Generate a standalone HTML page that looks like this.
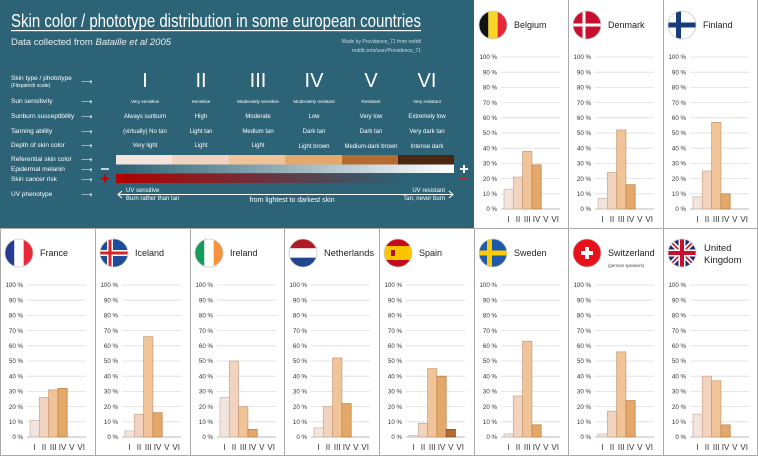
<!DOCTYPE html>
<html><head><meta charset="utf-8">
<style>
html,body{margin:0;padding:0;background:#fff;}
svg{display:block;font-family:"Liberation Sans",sans-serif;}
</style></head>
<body>
<svg id="s" width="758" height="456" viewBox="0 0 758 456" xmlns="http://www.w3.org/2000/svg">
<defs>
<linearGradient id="mel" x1="0" x2="1" y1="0" y2="0"><stop offset="0" stop-color="#2b6275"/><stop offset="1" stop-color="#ffffff"/></linearGradient>
<linearGradient id="can" x1="0" x2="1" y1="0" y2="0"><stop offset="0" stop-color="#b30000"/><stop offset="0.85" stop-color="#2b6275"/><stop offset="1" stop-color="#2b6275"/></linearGradient>
</defs>
<rect x="0" y="0" width="758" height="456" fill="#fff"/>
<rect x="0" y="0" width="474" height="228" fill="#2c6377"/>
<g fill="#fff">
<text x="11" y="27" font-size="18" textLength="410" lengthAdjust="spacingAndGlyphs">Skin color / phototype distribution in some european countries</text>
<rect x="11" y="30" width="410" height="1.2"/>
<text x="11" y="45" font-size="9.5" fill="#e8eef0">Data collected from <tspan font-style="italic">Bataille et al 2005</tspan></text>
<text x="421" y="43" font-size="5" text-anchor="end" fill="#cfdde2">Made by Providence_71 from reddit</text>
<text x="421" y="52" font-size="5" text-anchor="end" fill="#cfdde2">reddit.com/user/Providence_71</text>
<g font-size="6.5">
<text x="11" y="80">Skin type / phototype</text>
<text x="11" y="87" font-size="5">(Fitzpatrick scale)</text>
<text x="11" y="103">Sun sensitivity</text>
<text x="11" y="118">Sunburn susceptibility</text>
<text x="11" y="133">Tanning ability</text>
<text x="11" y="147">Depth of skin color</text>
<text x="11" y="161">Referential skin color</text>
<text x="11" y="171">Epidermal melanin</text>
<text x="11" y="181">Skin cancer risk</text>
<text x="11" y="196">UV phenotype</text>
</g>
<g font-size="8">
<text x="81" y="84">⟶</text><text x="81" y="104">⟶</text><text x="81" y="119">⟶</text><text x="81" y="134">⟶</text><text x="81" y="148">⟶</text><text x="81" y="162">⟶</text><text x="81" y="172">⟶</text><text x="81" y="182">⟶</text><text x="81" y="197">⟶</text>
</g>
<g font-size="20" text-anchor="middle">
<text x="145" y="87">I</text><text x="201" y="87">II</text><text x="258" y="87">III</text><text x="314" y="87">IV</text><text x="371" y="87">V</text><text x="427" y="87">VI</text>
</g>
<g font-size="4.6" text-anchor="middle">
<text x="145" y="103">Very sensitive</text><text x="201" y="103">Sensitive</text><text x="258" y="103">Moderately sensitive</text><text x="314" y="103">Moderately resistant</text><text x="371" y="103">Resistant</text><text x="427" y="103">Very resistant</text>
</g>
<g font-size="6" text-anchor="middle">
<text x="145" y="118">Always sunburn</text><text x="201" y="118">High</text><text x="258" y="118">Moderate</text><text x="314" y="118">Low</text><text x="371" y="118">Very low</text><text x="427" y="118">Extremely low</text>
<text x="145" y="133">(virtually) No tan</text><text x="201" y="133">Light tan</text><text x="258" y="133">Medium tan</text><text x="314" y="133">Dark tan</text><text x="371" y="133">Dark tan</text><text x="427" y="133">Very dark tan</text>
<text x="145" y="147">Very light</text><text x="201" y="147">Light</text><text x="258" y="147">Light</text><text x="314" y="148">Light brown</text><text x="371" y="148">Medium-dark brown</text><text x="427" y="148">Intense dark</text>
</g>
</g>
<rect x="116" y="155" width="57" height="9.5" fill="#f3e5de"/>
<rect x="172" y="155" width="57" height="9.5" fill="#f2d3bf"/>
<rect x="229" y="155" width="57" height="9.5" fill="#f0c398"/>
<rect x="285" y="155" width="57" height="9.5" fill="#e3a86a"/>
<rect x="342" y="155" width="57" height="9.5" fill="#b66b2f"/>
<rect x="398" y="155" width="56" height="9.5" fill="#4a2711"/>
<rect x="116" y="164.5" width="338" height="8.5" fill="url(#mel)"/>
<rect x="116" y="174" width="338" height="9" fill="url(#can)"/>
<rect x="101" y="168" width="8" height="2" fill="#c5d3d8"/>
<rect x="460" y="168" width="8" height="2" fill="#fff"/><rect x="463" y="165" width="2" height="8" fill="#fff"/>
<rect x="101" y="177.5" width="8" height="2" fill="#c00"/><rect x="104" y="174.5" width="2" height="8" fill="#c00"/>
<rect x="460" y="177.5" width="8" height="2" fill="#a33"/>
<g stroke="#fff" stroke-width="1" fill="none">
<line x1="118" y1="194.5" x2="453" y2="194.5"/>
<polyline points="122,191 118,194.5 122,198"/>
<polyline points="449,191 453,194.5 449,198"/>
</g>
<g fill="#fff" font-size="6">
<text x="126" y="192">UV sensitive</text>
<text x="126" y="200">Burn rather than tan</text>
<text x="445" y="192" text-anchor="end">UV resistant</text>
<text x="445" y="200" text-anchor="end">Tan, never burn</text>
<text x="292" y="202" font-size="7" text-anchor="middle">from lightest to darkest skin</text>
</g>
<g id="panels"></g>
</svg>
<script>
var NS="http://www.w3.org/2000/svg";
var g=document.getElementById("panels");
function el(t,a,p){var e=document.createElementNS(NS,t);for(var k in a)e.setAttribute(k,a[k]);(p||g).appendChild(e);return e;}
var cols=["#f3e5de","#f2d3bf","#f0c398","#e3a86a","#b66b2f","#4a2711"];
var bord=["#c9b3a8","#c9a58f","#c79a70","#b98043","#8a4c1c","#2a150a"];
var rom=["I","II","III","IV","V","VI"];
var P=[
 ["Belgium",474,0,[13,21,38,29,0,0],"be"],
 ["Denmark",568,0,[7,24,52,16,0,0],"dk"],
 ["Finland",663,0,[8,25,57,10,0,0],"fi"],
 ["France",0,228,[11,26,31,32,0,0],"fr"],
 ["Iceland",95,228,[4,15,66,16,0,0],"is"],
 ["Ireland",190,228,[26,50,20,5,0,0],"ie"],
 ["Netherlands",284,228,[6,20,52,22,0,0],"nl"],
 ["Spain",379,228,[1,9,45,40,5,0],"es"],
 ["Sweden",474,228,[2,27,63,8,0,0],"se"],
 ["Switzerland",568,228,[2,17,56,24,0,0],"ch"],
 ["United Kingdom",663,228,[15,40,37,8,0,0],"uk"]
];
var fid=0;
function flag(type,cx,cy){
 var r=14;fid++;var id="c"+fid;
 var cp=el("clipPath",{id:id});el("circle",{cx:cx,cy:cy,r:r},cp);
 var f=el("g",{"clip-path":"url(#"+id+")"});
 var x=cx-r,y=cy-r,w=2*r;
 function R(a,b,c,d,col){el("rect",{x:a,y:b,width:c,height:d,fill:col},f);}
 if(type=="be"){R(x,y,w/3,w,"#111");R(x+w/3,y,w/3,w,"#f7d629");R(x+2*w/3,y,w/3,w,"#e8263b");}
 if(type=="fr"){R(x,y,w/3,w,"#233c91");R(x+w/3,y,w/3,w,"#fff");R(x+2*w/3,y,w/3,w,"#ea2839");}
 if(type=="ie"){R(x,y,w/3,w,"#179a5a");R(x+w/3,y,w/3,w,"#fff");R(x+2*w/3,y,w/3,w,"#f7923a");}
 if(type=="nl"){R(x,y,w,w/3,"#ae1c28");R(x,y+w/3,w,w/3,"#fff");R(x,y+2*w/3,w,w/3,"#21468b");}
 if(type=="es"){R(x,y,w,w,"#c60b1e");R(x,y+w/4,w,w/2,"#ffc400");R(cx-7,cy-3,4,6,"#ad1519");}
 if(type=="dk"){R(x,y,w,w,"#c8102e");R(x,cy-1.5,w,3,"#fff");R(cx-4.5,y,3,w,"#fff");}
 if(type=="fi"){R(x,y,w,w,"#fff");R(x,cy-2.5,w,5,"#173d7c");R(cx-6,y,5,w,"#173d7c");}
 if(type=="se"){R(x,y,w,w,"#1e5aa8");R(x,cy-2.5,w,5,"#fecc02");R(cx-6,y,5,w,"#fecc02");}
 if(type=="is"){R(x,y,w,w,"#1b4d9b");R(x,cy-3,w,6,"#fff");R(cx-7,y,6,w,"#fff");R(x,cy-1.5,w,3,"#d72828");R(cx-5.5,y,3,w,"#d72828");}
 if(type=="ch"){R(x,y,w,w,"#e8101a");R(cx-6,cy-2,12,4,"#fff");R(cx-2,cy-6,4,12,"#fff");}
 if(type=="uk"){R(x,y,w,w,"#1b2b6b");
  el("line",{x1:x,y1:y,x2:x+w,y2:y+w,stroke:"#fff","stroke-width":5},f);
  el("line",{x1:x+w,y1:y,x2:x,y2:y+w,stroke:"#fff","stroke-width":5},f);
  el("line",{x1:x,y1:y,x2:x+w,y2:y+w,stroke:"#c8102e","stroke-width":1.6},f);
  el("line",{x1:x+w,y1:y,x2:x,y2:y+w,stroke:"#c8102e","stroke-width":1.6},f);
  R(x,cy-3.5,w,7,"#fff");R(cx-3.5,y,7,w,"#fff");R(x,cy-2,w,4,"#c8102e");R(cx-2,y,4,w,"#c8102e");}
 el("circle",{cx:cx,cy:cy,r:r,fill:"none",stroke:"#ccc","stroke-width":0.8});
}
P.forEach(function(p){
 var x0=p[1],y0=p[2],base=y0+209;
 flag(p[4],x0+19,y0+25);
 if(p[0]=="United Kingdom"){el("text",{x:x0+41,y:y0+23,"font-size":"9.5",fill:"#222"}).textContent="United";el("text",{x:x0+41,y:y0+35,"font-size":"9.5",fill:"#222"}).textContent="Kingdom";}
 else {var a={x:x0+40,y:y0+28,"font-size":"9",fill:"#222"};if(p[0]=="Netherlands"){a.textLength="50";a.lengthAdjust="spacingAndGlyphs";}
  el("text",a).textContent=p[0];}
 if(p[0]=="Switzerland")el("text",{x:x0+40,y:y0+39,"font-size":"4.3",fill:"#444"}).textContent="(german speakers)";
 for(var i=0;i<=10;i++){var yy=base-i*15.2;
  el("line",{x1:x0+27,y1:yy,x2:x0+86,y2:yy,stroke:"#ddd","stroke-width":0.8});
  el("text",{x:x0+23,y:yy+2.2,"font-size":"6.2","text-anchor":"end",fill:"#333"}).textContent=(i*10)+" %";}
 el("line",{x1:x0+27,y1:base,x2:x0+86,y2:base,stroke:"#aaa","stroke-width":0.8});
 for(var j=0;j<6;j++){var bx=x0+30+j*9.3,v=p[3][j];
  if(v>0)el("rect",{x:bx,y:base-v*1.52,width:9.3,height:v*1.52,fill:cols[j],stroke:bord[j],"stroke-width":0.7});
  el("text",{x:bx+4.65,y:base+13,"font-size":"8","text-anchor":"middle",fill:"#333"}).textContent=rom[j];}
});
function L(a,b,c,d){el("line",{x1:a,y1:b,x2:c,y2:d,stroke:"#aaa","stroke-width":1});}
[568,663].forEach(function(x){L(x+0.5,0,x+0.5,228);});
[95,190,284,379,474,568,663].forEach(function(x){L(x+0.5,228,x+0.5,456);});
L(0,228.5,758,228.5);L(757.5,0,757.5,456);L(0,455.5,758,455.5);L(0.5,228,0.5,456);
</script>
</body></html>
